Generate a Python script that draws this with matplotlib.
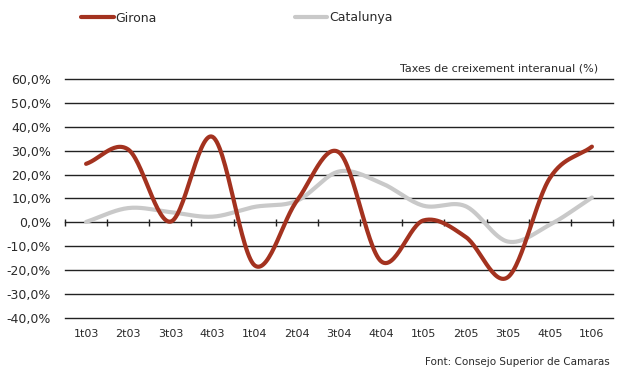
"""Girona vs Catalunya: year-on-year growth rates by quarter."""

import matplotlib
matplotlib.use("Agg")
import matplotlib.pyplot as plt
import numpy as np
from matplotlib.lines import Line2D


# Quarters on the x axis
quarters = ["1t03", "2t03", "3t03", "4t03", "1t04", "2t04", "3t04",
            "4t04", "1t05", "2t05", "3t05", "4t05", "1t06"]

# Year-on-year growth (%)
girona = [24.5, 30.5, 0.3, 35.8, -18.0, 9.0, 29.3, -16.3, 0.8, -6.0, -23.0, 18.5, 31.7]
catalunya = [0.2, 6.0, 4.3, 2.4, 6.5, 9.0, 21.3, 16.5, 7.0, 6.8, -8.0, -1.0, 10.4]

y_ticks = [60, 50, 40, 30, 20, 10, 0, -10, -20, -30, -40]

girona_color = "#a3321f"
catalunya_color = "#c9c9c9"
text_color = "#2a2a2a"


def smooth(values, steps=30):
    # Catmull-Rom curve through the points, like a spreadsheet "smoothed line"
    p = np.asarray(values, dtype=float)
    n = len(p)
    m = np.zeros(n)
    m[1:-1] = (p[2:] - p[:-2]) / 2
    m[0] = p[1] - p[0]
    m[-1] = p[-1] - p[-2]
    xs, ys = [], []
    for i in range(n - 1):
        t = np.linspace(0, 1, steps, endpoint=False)
        h00 = 2 * t**3 - 3 * t**2 + 1
        h10 = t**3 - 2 * t**2 + t
        h01 = -2 * t**3 + 3 * t**2
        h11 = t**3 - t**2
        xs.append(i + t)
        ys.append(h00 * p[i] + h10 * m[i] + h01 * p[i + 1] + h11 * m[i + 1])
    xs.append([n - 1])
    ys.append([p[-1]])
    return np.concatenate(xs), np.concatenate(ys)


plt.rcParams["font.family"] = ["DejaVu Sans"]

fig = plt.figure(figsize=(6.24, 3.74), dpi=100)
ax = fig.add_axes([65 / 624, 1 - 318 / 374, 548 / 624, 239 / 374])

n = len(quarters)
ax.set_xlim(-0.5, n - 0.5)
ax.set_ylim(-40, 60)

# horizontal gridlines
for v in y_ticks:
    ax.axhline(v, color="#222222", linewidth=1.0, zorder=1, clip_on=False)

# small tick marks on the zero line at category boundaries
bounds = np.arange(n + 1) - 0.5
ax.vlines(bounds, -1.6, 1.6, color="#222222", linewidth=1.0, zorder=1,
          clip_on=False)

xs, ys = smooth(catalunya)
ax.plot(xs, ys, color=catalunya_color, linewidth=3.0,
        solid_capstyle="round", zorder=2)
xs, ys = smooth(girona)
ax.plot(xs, ys, color=girona_color, linewidth=3.0,
        solid_capstyle="round", zorder=3)

for s in ax.spines.values():
    s.set_visible(False)

ax.set_yticks(y_ticks)
ax.set_yticklabels([f"{v},0%" for v in y_ticks], fontsize=9,
                   color=text_color)
ax.set_xticks(range(n))
ax.set_xticklabels(quarters, fontsize=8, color=text_color)
ax.tick_params(axis="both", length=0)
ax.tick_params(axis="y", pad=10)
ax.tick_params(axis="x", pad=8)

ax.text(1 - 15 / 548, 1.045, "Taxes de creixement interanual (%)",
        transform=ax.transAxes, ha="right", va="center",
        fontsize=8, color=text_color)

fig.text(610 / 624, 1 - 362 / 374, "Font: Consejo Superior de Camaras",
         ha="right", va="center", fontsize=7.5, color=text_color)

handles = [
    Line2D([], [], color=girona_color, linewidth=3.0, solid_capstyle="round"),
    Line2D([], [], color=catalunya_color, linewidth=3.0, solid_capstyle="round"),
]
fig.legend(handles, ["Girona", "Catalunya"], ncol=2, frameon=False,
           loc="center left", bbox_to_anchor=(70 / 624, 1 - 18 / 374),
           fontsize=9, handlelength=2.6, handletextpad=0.15,
           columnspacing=11.0, labelcolor=text_color)

fig.savefig("out.png", dpi=100)
